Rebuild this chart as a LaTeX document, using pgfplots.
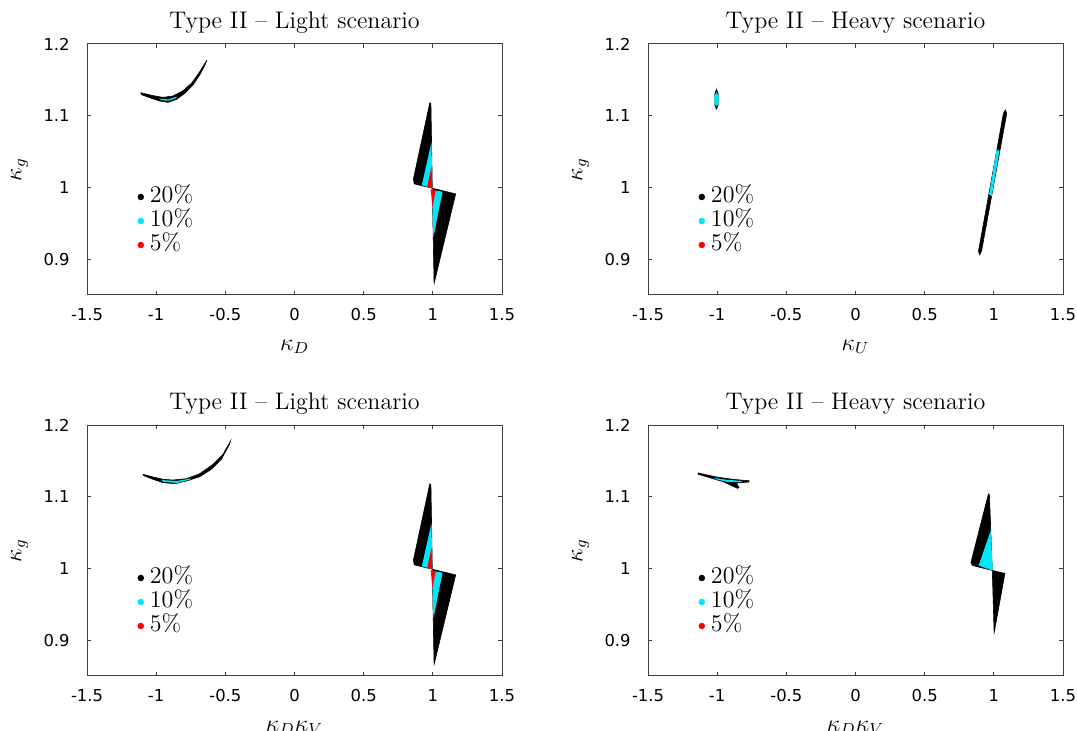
\documentclass[border=0pt]{standalone}
\usepackage{fontspec}
\usepackage{pgfplots}
\pgfplotsset{compat=1.18}
\newfontfamily\tickfont{DejaVu Sans}
\definecolor{lvcyan}{RGB}{0,230,250}
\definecolor{frame}{RGB}{64,64,64}

\pgfplotsset{
  panel/.style={
    scale only axis, width=207.5pt, height=125.5pt,
    xmin=-1.5, xmax=1.5, ymin=0.85, ymax=1.2,
    xtick={-1.5,-1,-0.5,0,0.5,1,1.5},
    xticklabels={-1.5,-1,-0.5,0,0.5,1,1.5},
    ytick={0.9,1,1.1,1.2},
    yticklabels={0.9,1,1.1,1.2},
    tick align=inside, major tick length=2pt,
    axis line style={frame, line width=0.5pt},
    every tick/.style={frame, line width=0.5pt},
    xticklabel style={font=\tickfont\fontsize{8.2}{9}\selectfont, anchor=center, inner sep=0pt, yshift=-10pt},
    yticklabel style={font=\tickfont\fontsize{8.2}{9}\selectfont, anchor=east, inner sep=0pt, xshift=-8.5pt},
    title style={font=\fontsize{12}{14}\selectfont, at={(axis description cs:0.5,1.012)}, anchor=base},
    xlabel style={font=\fontsize{12}{14}\selectfont, at={(axis description cs:0.5,-0.207)}, anchor=center},
    ylabel style={font=\fontsize{12}{14}\selectfont, at={(axis description cs:-0.1627,0.5)}, anchor=center},
    ylabel={$\kappa_g$},
    legend style={draw=none, fill=none, at={(axis description cs:0.1219,0.449)}, anchor=north west,
      inner sep=0pt, outer sep=0pt, row sep=0pt, column sep=0pt,
      nodes={inner sep=1pt, text height=9pt, text depth=1pt},
      font=\fontsize{12}{14}\selectfont},
    legend cell align=left,
    legend image code/.code={\fill (0pt,-1.35pt) circle (1.4pt); \path[draw=none, fill=none] (-1.2pt,0pt) -- (3.6pt,0pt);},
  },
  region/.style={draw=none, forget plot},
}

\begin{document}
\begin{tikzpicture}
\useasboundingbox (0,0) rectangle (538.5pt,-365.5pt);

% ---------------- top left: light scenario, kappa_D
\begin{axis}[panel, at={(43.5pt,-147.5pt)}, anchor=south west,
  title={Type II -- Light scenario}, xlabel={$\kappa_D$}]
\addplot[region, fill=black, draw=black, line width=0.3pt] coordinates {
 (-1.111,1.1320) (-1.022,1.1280) (-0.950,1.1256) (-0.878,1.1275) (-0.806,1.1349)
 (-0.745,1.1451) (-0.685,1.1614) (-0.633,1.1777) (-0.647,1.1707) (-0.685,1.1568)
 (-0.734,1.1428) (-0.793,1.1312) (-0.853,1.1228) (-0.914,1.1186) (-0.974,1.1205)
 (-1.034,1.1242) (-1.106,1.1293)} -- cycle;
\addplot[region, fill=lvcyan] coordinates {
 (-0.979,1.1238) (-0.914,1.1228) (-0.853,1.1266) (-0.853,1.1247) (-0.907,1.1210) (-0.961,1.1214)} -- cycle;
\addplot[region, fill=black, draw=black, line width=0.3pt] coordinates {
 (0.978,1.118) (0.860,1.012) (0.865,1.005) (1.165,0.991) (1.009,0.866) (0.997,0.990) (0.986,1.117)} -- cycle;
\addplot[region, fill=lvcyan] coordinates {(0.990,1.063) (0.920,1.003) (0.997,0.999)} -- cycle;
\addplot[region, fill=lvcyan] coordinates {(0.990,0.997) (1.070,0.994) (1.004,0.930) (0.997,0.975)} -- cycle;
\addplot[region, fill=red] coordinates {(0.990,1.029) (0.960,1.001) (0.997,0.999)} -- cycle;
\addplot[region, fill=red] coordinates {(0.985,0.9975) (1.021,0.996) (0.997,0.972)} -- cycle;
\addlegendimage{black}\addlegendentry{20\%}
\addlegendimage{lvcyan}\addlegendentry{10\%}
\addlegendimage{red}\addlegendentry{5\%}
\end{axis}

% ---------------- top right: heavy scenario, kappa_U
\begin{axis}[panel, at={(324pt,-147.5pt)}, anchor=south west,
  title={Type II -- Heavy scenario}, xlabel={$\kappa_U$}]
\addplot[region, fill=black, draw=black, line width=0.3pt] coordinates {
 (-1.005,1.137) (-0.994,1.131) (-0.994,1.114) (-1.005,1.109) (-1.016,1.114) (-1.016,1.131)} -- cycle;
\addplot[region, fill=lvcyan] coordinates {
 (-1.005,1.133) (-0.990,1.127) (-0.990,1.117) (-1.005,1.113) (-1.020,1.117) (-1.020,1.127)} -- cycle;
\addplot[region, fill=black, draw=black, line width=0.3pt] coordinates {
 (1.069,1.103) (1.083,1.108) (1.093,1.103) (0.912,0.912) (0.898,0.906) (0.889,0.911)} -- cycle;
\addplot[region, fill=lvcyan] coordinates {(1.020,1.053) (1.040,1.051) (0.985,0.988) (0.965,0.990)} -- cycle;
\addlegendimage{black}\addlegendentry{20\%}
\addlegendimage{lvcyan}\addlegendentry{10\%}
\addlegendimage{red}\addlegendentry{5\%}
\end{axis}

% ---------------- bottom left: light scenario, kappa_D kappa_V
\begin{axis}[panel, at={(43.5pt,-338pt)}, anchor=south west,
  title={Type II -- Light scenario}, xlabel={$\kappa_D\kappa_V$}]
\addplot[region, fill=black, draw=black, line width=0.3pt] coordinates {
 (-1.094,1.1312) (-1.022,1.1275) (-0.950,1.1242) (-0.878,1.1233) (-0.781,1.1251)
 (-0.685,1.1321) (-0.589,1.1451) (-0.517,1.1591) (-0.462,1.1777) (-0.469,1.1731)
 (-0.529,1.1522) (-0.601,1.1382) (-0.685,1.1279) (-0.781,1.1219) (-0.866,1.1182)
 (-0.950,1.1196) (-1.022,1.1242) (-1.089,1.1293)} -- cycle;
\addplot[region, fill=lvcyan] coordinates {
 (-0.961,1.1233) (-0.853,1.1219) (-0.745,1.1256) (-0.757,1.1237) (-0.853,1.1191) (-0.950,1.1209)} -- cycle;
\addplot[region, fill=black, draw=black, line width=0.3pt] coordinates {
 (0.978,1.118) (0.860,1.012) (0.865,1.005) (1.165,0.991) (1.009,0.866) (0.997,0.990) (0.986,1.117)} -- cycle;
\addplot[region, fill=lvcyan] coordinates {(0.990,1.063) (0.920,1.003) (0.997,0.999)} -- cycle;
\addplot[region, fill=lvcyan] coordinates {(0.990,0.997) (1.070,0.994) (1.004,0.930) (0.997,0.975)} -- cycle;
\addplot[region, fill=red] coordinates {(0.990,1.029) (0.960,1.001) (0.997,0.999)} -- cycle;
\addplot[region, fill=red] coordinates {(0.985,0.9975) (1.021,0.996) (0.997,0.972)} -- cycle;
\addlegendimage{black}\addlegendentry{20\%}
\addlegendimage{lvcyan}\addlegendentry{10\%}
\addlegendimage{red}\addlegendentry{5\%}
\end{axis}

% ---------------- bottom right: heavy scenario, kappa_D kappa_V
\begin{axis}[panel, at={(324pt,-338pt)}, anchor=south west,
  title={Type II -- Heavy scenario}, xlabel={$\kappa_D\kappa_V$}]
\addplot[region, fill=black, draw=black, line width=0.3pt] coordinates {
 (-1.137,1.1331) (-1.005,1.1275) (-0.885,1.1242) (-0.770,1.1223) (-0.770,1.1205)
 (-0.860,1.1191) (-0.842,1.1126) (-0.853,1.1117) (-0.957,1.1209) (-1.053,1.1265)
 (-1.137,1.1312)} -- cycle;
\addplot[region, fill=lvcyan] coordinates {
 (-1.029,1.1265) (-0.933,1.1237) (-0.813,1.1219) (-0.837,1.1201) (-0.933,1.1209) (-1.005,1.1242)} -- cycle;
\addplot[region, fill=black, draw=black, line width=0.3pt] coordinates {
 (0.961,1.104) (0.834,1.008) (0.846,1.004) (1.080,0.993) (1.002,0.910) (0.990,0.990) (0.968,1.103)} -- cycle;
\addplot[region, fill=lvcyan] coordinates {(0.978,1.053) (0.890,1.004) (0.992,0.997)} -- cycle;
\addlegendimage{black}\addlegendentry{20\%}
\addlegendimage{lvcyan}\addlegendentry{10\%}
\addlegendimage{red}\addlegendentry{5\%}
\end{axis}
\end{tikzpicture}
\end{document}
